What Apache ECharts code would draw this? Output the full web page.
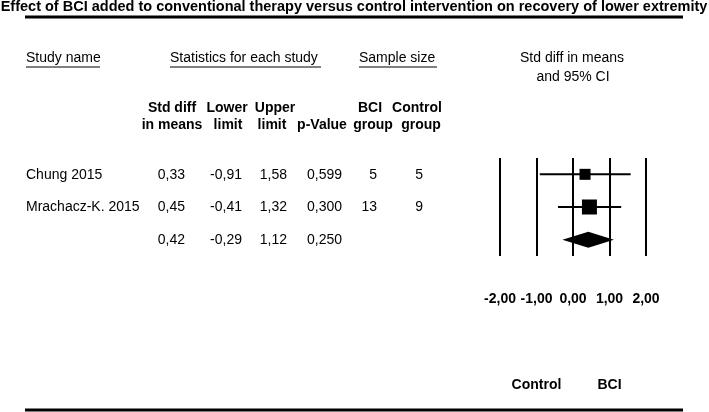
<!DOCTYPE html>
<html>
<head>
<meta charset="utf-8">
<script src="https://cdn.jsdelivr.net/npm/echarts@6/dist/echarts.min.js"></script>
<style>
  html, body { margin: 0; padding: 0; background: #fff; }
  #chart { width: 709px; height: 412px; }
</style>
</head>
<body>
<div id="chart"></div>
<script>
// data
const studies = ['Chung 2015', 'Mrachacz-K. 2015', ''];
const stdDiff = [0.33, 0.45, 0.42];
const lowerLimit = [-0.91, -0.41, -0.29];
const upperLimit = [1.58, 1.32, 1.12];
const pValues = ['0,599', '0,300', '0,250'];
const bciGroup = ['5', '13', ''];
const controlGroup = ['5', '9', ''];
const xTicks = [-2, -1, 0, 1, 2];

const chart = echarts.init(document.getElementById('chart'));
const FONT = '"Liberation Sans", Arial, sans-serif';
const fmt = v => v.toFixed(2).replace('.', ',');

const rowY = [175, 207, 240];

// table text
const texts = [];
function txt(x, y, s, align, bold, size) {
  texts.push({
    type: 'text', x: x, y: y,
    style: {
      text: s, fill: '#000', font: (bold ? 'bold ' : '') + (size || 14) + 'px ' + FONT,
      textAlign: align || 'left', textVerticalAlign: 'middle'
    }
  });
}
function hline(x1, x2, y, w) {
  texts.push({ type: 'line', shape: { x1: x1, y1: y, x2: x2, y2: y }, style: { stroke: '#000', lineWidth: w } });
}

txt(354, 7, 'Effect of BCI added to conventional therapy versus control intervention on recovery of lower extremity', 'center', true, 14.5);
hline(25, 683, 17, 3);
hline(25, 683, 410, 3);

txt(26, 58, 'Study name');
hline(26, 100, 67, 1);
txt(170, 58, 'Statistics for each study');
hline(170, 321, 67, 1);
txt(359, 58, 'Sample size');
hline(359, 437, 67, 1);
txt(572, 58, 'Std diff in means', 'center');
txt(573, 77, 'and 95% CI', 'center');

txt(172, 108, 'Std diff', 'center', true);
txt(227, 108, 'Lower', 'center', true);
txt(275, 108, 'Upper', 'center', true);
txt(370, 108, 'BCI', 'center', true);
txt(417, 108, 'Control', 'center', true);
txt(172, 125, 'in means', 'center', true);
txt(228, 125, 'limit', 'center', true);
txt(272, 125, 'limit', 'center', true);
txt(322, 125, 'p-Value', 'center', true);
txt(373, 125, 'group', 'center', true);
txt(421, 125, 'group', 'center', true);

studies.forEach((s, i) => {
  const y = rowY[i];
  txt(26, y, s);
  txt(185, y, fmt(stdDiff[i]), 'right');
  txt(242, y, fmt(lowerLimit[i]), 'right');
  txt(287, y, fmt(upperLimit[i]), 'right');
  txt(342, y, pValues[i], 'right');
  txt(377, y, bciGroup[i], 'right');
  txt(423, y, controlGroup[i], 'right');
});

const studyIdx = [0, 1];
const option = {
  animation: false,
  grid: { left: 500, width: 146, top: 158, height: 98 },
  xAxis: {
    type: 'value', min: -2, max: 2, interval: 1,
    axisLine: { show: false }, axisTick: { show: false },
    splitLine: { show: true, lineStyle: { color: '#000', width: 2 } },
    axisLabel: { margin: 36, color: '#000', fontWeight: 'bold', fontSize: 14, fontFamily: FONT, formatter: v => fmt(v) }
  },
  yAxis: { type: 'category', inverse: true, data: studies.map((s, i) => i), show: false },
  series: [
    {
      type: 'custom',
      data: studyIdx.map(i => [lowerLimit[i], upperLimit[i], i]),
      renderItem: (params, api) => {
        const a = api.coord([api.value(0), api.value(2)]);
        const b = api.coord([api.value(1), api.value(2)]);
        return { type: 'line', shape: { x1: a[0], y1: a[1], x2: b[0], y2: b[1] }, style: { stroke: '#000', lineWidth: 2 } };
      }
    },
    {
      type: 'scatter', symbol: 'rect',
      symbolSize: (v, p) => [11, 15][p.dataIndex],
      itemStyle: { color: '#000', opacity: 1 },
      data: studyIdx.map(i => [stdDiff[i], i])
    },
    {
      type: 'custom',
      data: [[lowerLimit[2], stdDiff[2], upperLimit[2], 2]],
      renderItem: (params, api) => {
        const l = api.coord([api.value(0), api.value(3)]);
        const m = api.coord([api.value(1), api.value(3)]);
        const r = api.coord([api.value(2), api.value(3)]);
        return {
          type: 'polygon',
          shape: { points: [[l[0], l[1]], [m[0], m[1] - 8], [r[0], r[1]], [m[0], m[1] + 8]] },
          style: { fill: '#000' }
        };
      }
    }
  ],
  graphic: texts
};
chart.setOption(option);

// favour labels under -1 and +1
const cx = chart.convertToPixel({ gridIndex: 0 }, [-1, 0])[0];
const bx = chart.convertToPixel({ gridIndex: 0 }, [1, 0])[0];
txt(cx, 385, 'Control', 'center', true);
txt(bx, 385, 'BCI', 'center', true);
chart.setOption({ graphic: texts });
</script>
</body>
</html>
